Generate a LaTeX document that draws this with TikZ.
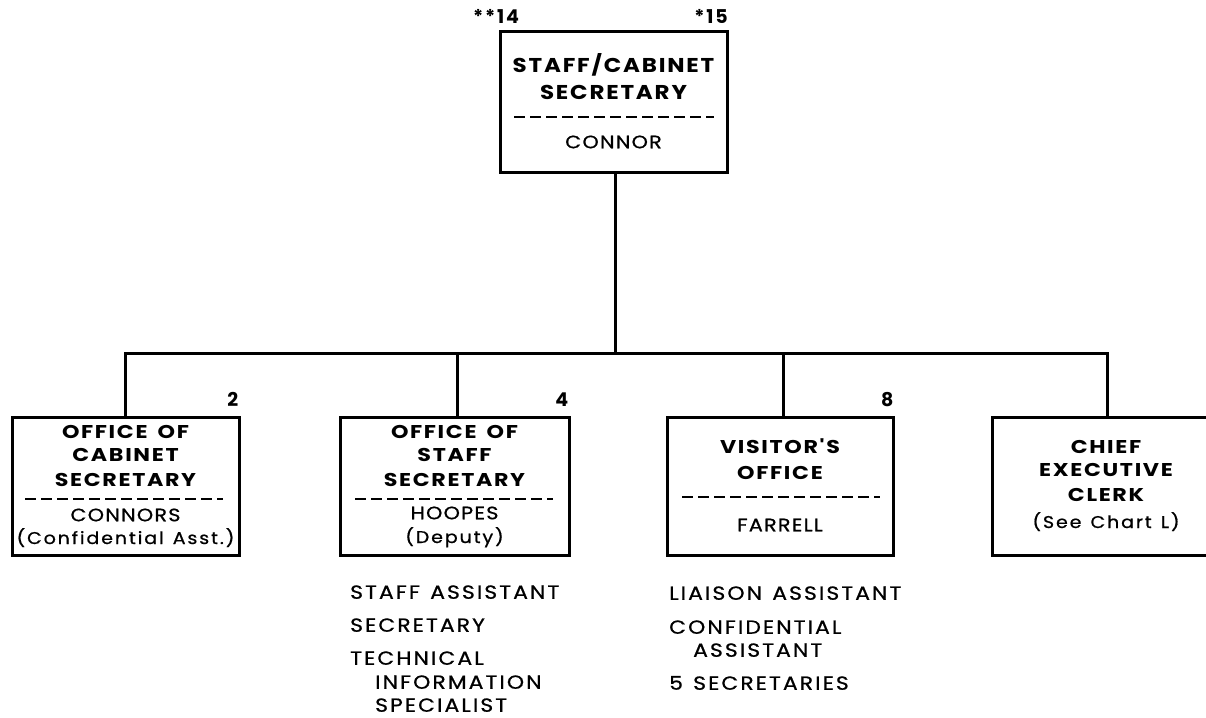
\documentclass[tikz,border=0pt]{standalone}
\usepackage{fontspec}
\setmainfont{Poppins}
\newfontfamily\bxfont{Poppins}[LetterSpace=9, FakeStretch=1.2, WordSpace=1.6]
\newfontfamily\bigfont{Poppins}[LetterSpace=9, FakeStretch=1.15, WordSpace=1.4]
\newfontfamily\nmfont{Poppins}[LetterSpace=7, FakeStretch=1.15, FakeBold=0.8]
\newfontfamily\smfont{Poppins}[LetterSpace=11, FakeStretch=1.12, FakeBold=0.8, WordSpace=1.3]
\newfontfamily\lsfont{Poppins}[LetterSpace=11, FakeStretch=1.15, FakeBold=0.8, WordSpace=1.3]
\newfontfamily\nbfont{Poppins}[LetterSpace=10]
\begin{document}
\begin{tikzpicture}[x=1pt,y=-1pt,
  orgbox/.style={draw, line width=3pt, inner sep=0pt},
  wire/.style={line width=3pt},
  sep/.style={line width=2.5pt, dash pattern=on 11pt off 5pt},
  ttlbig/.style={font=\bigfont\bfseries\fontsize{20}{22}\selectfont, inner sep=0pt, text height=14pt, text depth=0pt},
  ttl/.style={font=\bxfont\bfseries\fontsize{18.5}{20}\selectfont, inner sep=0pt, text height=13pt, text depth=0pt},
  nm/.style={font=\nmfont\fontsize{18}{20}\selectfont, inner sep=0pt, text height=12.5pt, text depth=0pt},
  sm/.style={font=\smfont\fontsize{17}{20}\selectfont, inner sep=0pt, text height=12pt, text depth=0pt},
  lst/.style={font=\lsfont\fontsize{19}{20}\selectfont, inner sep=0pt, text height=13.5pt, text depth=0pt, anchor=west},
  num/.style={font=\nbfont\bfseries\fontsize{19}{20}\selectfont, inner sep=0pt, text height=13pt, text depth=0pt}]
\useasboundingbox (0,0) rectangle (1206,717);
\clip (0,0) rectangle (1206,717);
\fill[white] (0,0) rectangle (1206,717);

% boxes
\node[orgbox, minimum width=227pt, minimum height=140pt] (top) at (613.5,102) {};
\node[orgbox, minimum width=227pt, minimum height=138pt] (c1) at (125.5,486) {};
\node[orgbox, minimum width=229pt, minimum height=138pt] (c2) at (454.5,486) {};
\node[orgbox, minimum width=226pt, minimum height=138pt] (c3) at (780,486) {};
\node[orgbox, minimum width=228pt, minimum height=138pt] (c4) at (1106,486) {};

% connectors
\coordinate (busy) at (0,353);
\coordinate (s0) at ([xshift=1.5pt]top.south);
\coordinate (s1) at ([xshift=-0.5pt]c1.north);
\coordinate (s2) at ([xshift=2.5pt]c2.north);
\coordinate (s3) at ([xshift=3pt]c3.north);
\coordinate (s4) at ([xshift=1pt]c4.north);
\draw[wire] (s0) -- (s0 |- busy);
\draw[wire] (s1) -- (s1 |- busy) -- (s4 |- busy) -- (s4);
\draw[wire] (s2) -- (s2 |- busy);
\draw[wire] (s3) -- (s3 |- busy);

% top box
\node[num] (n14) at (496,17) {**14};
\node[num] (n15) at (711,17) {*15};
\node[ttlbig] (t1) at (613.5,65) {STAFF/CABINET};
\node[ttlbig] (t2) at (613.5,92) {SECRETARY};
\coordinate (d0a) at (514,117);
\coordinate (d0b) at (714,117);
\draw[sep] (d0a) -- (d0b);
\node[nm] (t3) at (613.5,142) {CONNOR};

% box 1
\node[num, anchor=south east] (n2) at ([xshift=-2pt,yshift=9pt]c1.north east) {2};
\node[ttl] (a1) at (125.5,432) {OFFICE OF};
\node[ttl] (a2) at (125.5,455) {CABINET};
\node[ttl] (a3) at (125.5,480) {SECRETARY};
\coordinate (d1a) at (25,499);
\coordinate (d1b) at (223,499);
\draw[sep] (d1a) -- (d1b);
\node[nm] (a4) at (125.5,515) {CONNORS};
\node[sm] (a5) at (125.5,538) {(Confidential Asst.)};

% box 2
\node[num, anchor=south east] (n4) at ([xshift=-2pt,yshift=9pt]c2.north east) {4};
\node[ttl] (b1) at (454.5,432) {OFFICE OF};
\node[ttl] (b2) at (454.5,455) {STAFF};
\node[ttl] (b3) at (454.5,480) {SECRETARY};
\coordinate (d2a) at (355,499);
\coordinate (d2b) at (553,499);
\draw[sep] (d2a) -- (d2b);
\node[nm] (b4) at (454.5,513) {HOOPES};
\node[sm] (b5) at (454.5,537) {(Deputy)};

% box 3
\node[num, anchor=south east] (n8) at ([xshift=-1pt,yshift=9pt]c3.north east) {8};
\node[ttl] (v1) at (780,447) {VISITOR'S};
\node[ttl] (v2) at (780,473) {OFFICE};
\coordinate (d3a) at (682,497);
\coordinate (d3b) at (880,497);
\draw[sep] (d3a) -- (d3b);
\node[nm] (v3) at (780,525) {FARRELL};

% box 4
\node[ttl] (e1) at (1106,447) {CHIEF};
\node[ttl] (e2) at (1106,470) {EXECUTIVE};
\node[ttl] (e3) at (1106,495) {CLERK};
\node[sm] (e4) at (1106,522) {(See Chart L)};

% lists
\node[lst] (l1) at (350,592) {STAFF ASSISTANT};
\node[lst] (l2) at (350,625) {SECRETARY};
\node[lst] (l3) at (350,658) {TECHNICAL};
\node[lst] (l4) at (375,682) {INFORMATION};
\node[lst] (l5) at (375,705) {SPECIALIST};
\node[lst] (m1) at (669,593) {LIAISON ASSISTANT};
\node[lst] (m2) at (669,627) {CONFIDENTIAL};
\node[lst] (m3) at (693,650) {ASSISTANT};
\node[lst] (m4) at (669,683) {5 SECRETARIES};
\end{tikzpicture}
\end{document}
